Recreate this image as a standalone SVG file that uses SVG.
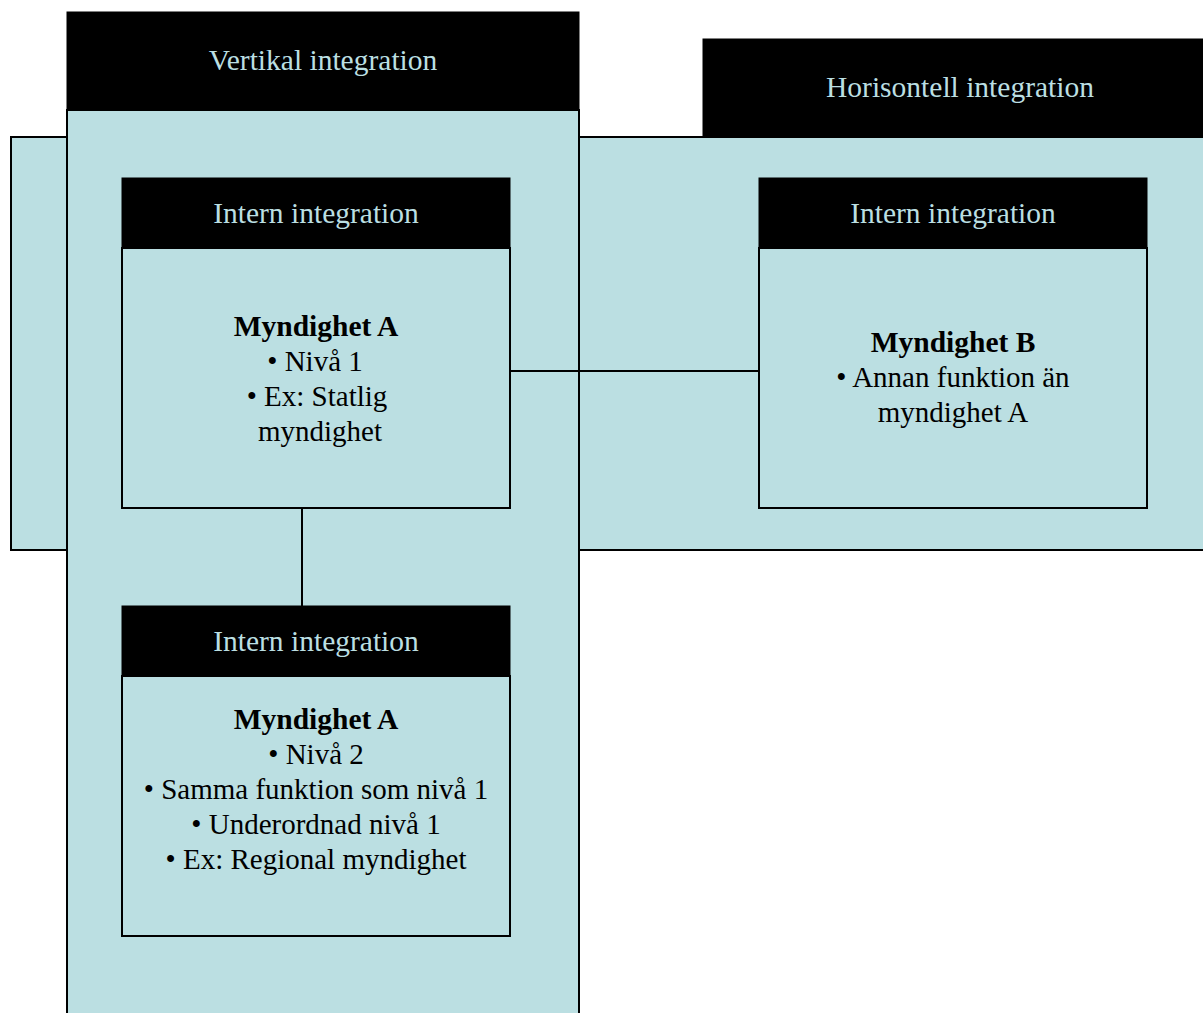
<svg xmlns="http://www.w3.org/2000/svg" width="1203" height="1013" viewBox="0 0 1203 1013">
  <style>
    .panel { fill: #bbdfe2; stroke: #000; stroke-width: 2; }
    .head { fill: #000; stroke: #000; stroke-width: 1; }
    .htxt { font-family: "Liberation Serif", "Times New Roman", serif; font-size: 29.5px; fill: #bbdfe2; text-anchor: middle; }
    .btxt { font-family: "Liberation Serif", "Times New Roman", serif; font-size: 29px; fill: #000; text-anchor: middle; }
    .bold { font-weight: bold; font-size: 29.5px; }
    .link { stroke: #000; stroke-width: 2; fill: none; }
  </style>
  <rect width="1203" height="1013" fill="#fff"/>

  <!-- Horizontal integration band (behind) -->
  <g id="horisontell">
    <rect class="panel" x="11" y="137" width="1200" height="413"/>
    <rect class="head" x="703" y="39" width="505" height="98"/>
    <text class="htxt" x="960" y="97">Horisontell integration</text>
  </g>

  <!-- Vertical integration column -->
  <g id="vertikal">
    <rect class="panel" x="67" y="110" width="512" height="910"/>
    <rect class="head" x="67" y="12" width="512" height="98"/>
    <text class="htxt" x="323" y="70">Vertikal integration</text>
  </g>

  <!-- Connectors -->
  <g id="connectors">
    <line class="link" x1="302" y1="508" x2="302" y2="606"/>
    <line class="link" x1="510" y1="371" x2="759" y2="371"/>
  </g>

  <!-- Authority A, level 1 -->
  <g id="myndighet-a1">
    <rect class="panel" x="122" y="248" width="388" height="260"/>
    <rect class="head" x="122" y="178" width="388" height="70"/>
    <text class="htxt" x="316" y="223">Intern integration</text>
    <text class="btxt bold" x="316" y="336">Myndighet A</text>
    <text class="btxt" x="315" y="371">• Nivå 1</text>
    <text class="btxt" x="317" y="406">• Ex: Statlig</text>
    <text class="btxt" x="320" y="441">myndighet</text>
  </g>

  <!-- Authority B -->
  <g id="myndighet-b">
    <rect class="panel" x="759" y="248" width="388" height="260"/>
    <rect class="head" x="759" y="178" width="388" height="70"/>
    <text class="htxt" x="953" y="223">Intern integration</text>
    <text class="btxt bold" x="953" y="352">Myndighet B</text>
    <text class="btxt" x="953" y="387">• Annan funktion än</text>
    <text class="btxt" x="953" y="422">myndighet A</text>
  </g>

  <!-- Authority A, level 2 -->
  <g id="myndighet-a2">
    <rect class="panel" x="122" y="676" width="388" height="260"/>
    <rect class="head" x="122" y="606" width="388" height="70"/>
    <text class="htxt" x="316" y="651">Intern integration</text>
    <text class="btxt bold" x="316" y="729">Myndighet A</text>
    <text class="btxt" x="316" y="764">• Nivå 2</text>
    <text class="btxt" x="316" y="799">• Samma funktion som nivå 1</text>
    <text class="btxt" x="316" y="834">• Underordnad nivå 1</text>
    <text class="btxt" x="316" y="869">• Ex: Regional myndighet</text>
  </g>
</svg>
